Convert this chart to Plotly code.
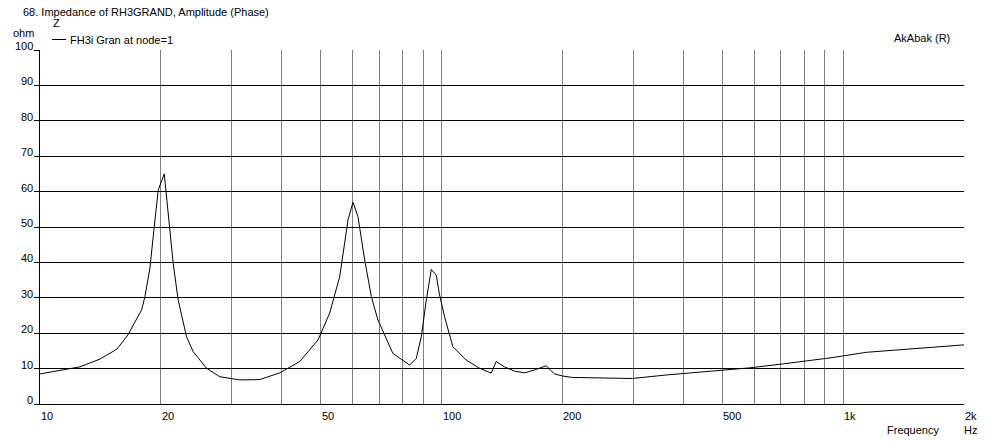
import plotly.graph_objects as go
import math

# Data (frequency in Hz, impedance in ohm)
freq_hz = [10.0, 12.58, 14.11, 15.54, 16.55, 17.91, 18.25, 18.78, 19.21, 19.70,
           20.39, 20.67, 21.06, 21.46, 22.08, 23.17, 24.06, 25.98, 28.04, 31.45,
           35.27, 39.54, 44.35, 49.24, 52.66, 55.76, 57.37, 58.47, 60.18, 61.92,
           64.35, 66.87, 69.43, 75.65, 83.26, 86.52, 89.03, 91.62, 94.28, 97.0,
           98.86, 101.7, 106.7, 115.2, 124.3, 132.9, 136.8, 143.5, 151.9, 160.9,
           170.3, 182.2, 191.1, 200.0, 211.8, 247.2, 298.7, 362.8, 483.2, 583.9,
           705.3, 938.9, 1141.0, 1519.0, 2000.0]
impedance_ohm = [8.5, 10.5, 12.7, 15.5, 19.5, 26.6, 30.3, 38.4, 49.0, 60.5,
                 65.0, 58.6, 49.0, 39.8, 29.4, 19.0, 14.8, 10.1, 7.7, 6.8,
                 6.9, 8.8, 12.0, 18.1, 25.7, 36.0, 45.5, 52.0, 57.0, 52.9,
                 40.7, 30.3, 23.7, 14.3, 11.0, 12.9, 19.0, 29.4, 38.0, 36.4,
                 30.8, 24.7, 16.2, 12.4, 10.1, 8.7, 12.0, 10.5, 9.3, 8.8,
                 9.6, 10.8, 8.5, 7.9, 7.5, 7.3, 7.2, 8.2, 9.3, 10.2,
                 11.3, 13.1, 14.6, 15.7, 16.7]

x_grid = [10, 20, 30, 40, 50, 60, 70, 80, 90, 100,
          200, 300, 400, 500, 600, 700, 800, 900, 1000, 2000]
x_label_vals = [10, 20, 50, 100, 200, 500, 1000, 2000]
x_label_text = ["10", "20", "50", "100", "200", "500", "1k", "2k"]
y_vals = [0, 10, 20, 30, 40, 50, 60, 70, 80, 90, 100]

title_text = "68. Impedance of RH3GRAND, Amplitude (Phase)"
series_name = "FH3i Gran at node=1"

FONT = "Liberation Sans"
fs = 11
W, H = 989, 441
ml, mr, mt, mb = 40, 25, 50, 37
pw, ph = W - ml - mr, H - mt - mb


def px(xp):
    return (xp - ml) / pw


def py(yp):
    return (H - mb - yp) / ph


fig = go.Figure()
fig.add_trace(go.Scatter(x=freq_hz, y=impedance_ohm, mode="lines",
                         line=dict(color="black", width=1), name=series_name,
                         showlegend=False, hoverinfo="x+y"))

ann = []
for v, t in zip(x_label_vals, x_label_text):
    ann.append(dict(x=math.log10(v), xref="x", y=0, yref="paper", text=t,
                    showarrow=False, xanchor="left", yanchor="middle",
                    yshift=-12, xshift=-1, font=dict(family=FONT, size=fs, color="black")))
for v in y_vals:
    ann.append(dict(x=0, xref="paper", y=v, yref="y", text=str(v),
                    showarrow=False, xanchor="right", yanchor="middle",
                    xshift=-5, yshift=4, font=dict(family=FONT, size=fs, color="black")))

def txt(xp, yp, t, xanchor="left"):
    ann.append(dict(x=px(xp), y=py(yp), xref="paper", yref="paper", text=t,
                    showarrow=False, xanchor=xanchor, yanchor="middle",
                    font=dict(family=FONT, size=fs, color="black")))

txt(21, 12, title_text)
txt(11, 33, "ohm")
txt(51, 23, "Z")
txt(68, 40, series_name)
txt(892, 38, "AkAbak (R)")
txt(885, 430, "Frequency")
txt(962, 430, "Hz")

shapes = [dict(type="line", xref="paper", yref="paper", x0=px(52), x1=px(66),
               y0=py(39.5), y1=py(39.5), line=dict(color="black", width=1))]

fig.update_layout(
    width=W, height=H,
    margin=dict(l=ml, r=mr, t=mt, b=mb, autoexpand=False),
    paper_bgcolor="white", plot_bgcolor="white",
    font=dict(family=FONT, size=fs, color="black"),
    annotations=ann, shapes=shapes,
    xaxis=dict(type="log", range=[1, math.log10(2000)], tickvals=x_grid,
               showticklabels=False, showgrid=True, gridcolor="#808080",
               gridwidth=1, showline=True, linecolor="black", linewidth=1,
               zeroline=False, ticks=""),
    yaxis=dict(range=[0, 100], tickvals=y_vals, showticklabels=False,
               showgrid=True, gridcolor="black", gridwidth=1, showline=True,
               linecolor="black", linewidth=1, zeroline=False, ticks="outside",
               ticklen=5, tickcolor="black", tickwidth=1),
)

fig.write_html("out.html", config={"displayModeBar": False},
               post_script="document.body.style.margin='0';document.body.style.overflow='hidden';")
